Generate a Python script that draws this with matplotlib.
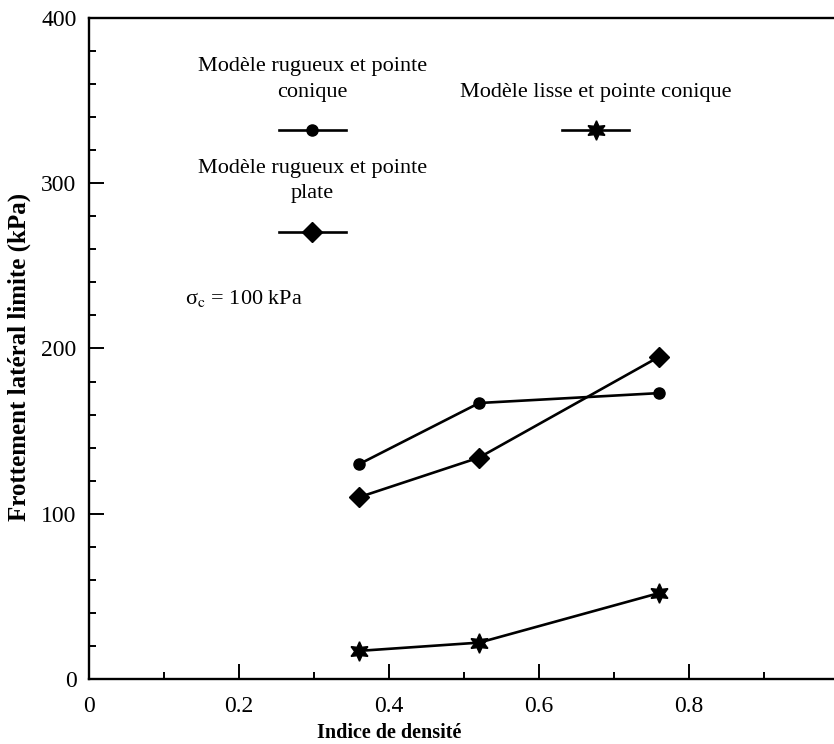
import matplotlib
matplotlib.use("Agg")
import matplotlib.pyplot as plt
from matplotlib.legend import Legend
from matplotlib.lines import Line2D
from matplotlib.ticker import MultipleLocator

plt.rcParams["font.family"] = ["Liberation Serif", "DejaVu Serif"]
plt.rcParams["mathtext.fontset"] = "stix"

# densite index and lateral friction (kPa)
indice = [0.36, 0.52, 0.76]
rugueux_conique = [130, 167, 173]
rugueux_plate = [110, 134, 195]
lisse_conique = [17, 22, 52]

lbl_rc = "Modèle rugueux et pointe\nconique"
lbl_lc = "Modèle lisse et pointe conique"
lbl_rp = "Modèle rugueux et pointe\nplate"
star6 = (6, 1, 0)

fig = plt.figure(figsize=(8.34, 7.44), dpi=100)
ax = fig.add_axes([0.1067, 0.0874, 0.8933, 0.8884])

ax.plot(indice, rugueux_conique, "-", color="k", lw=1.9, marker="o", ms=8)
ax.plot(indice, rugueux_plate, "-", color="k", lw=1.9, marker="D", ms=10)
ax.plot(indice, lisse_conique, "-", color="k", lw=1.9, marker=star6, ms=14)

ax.set_xlim(0, 0.993)
ax.set_ylim(0, 400)
ax.xaxis.set_major_locator(MultipleLocator(0.2))
ax.xaxis.set_minor_locator(MultipleLocator(0.1))
ax.yaxis.set_major_locator(MultipleLocator(100))
ax.yaxis.set_minor_locator(MultipleLocator(20))
ax.set_xticks([0, 0.2, 0.4, 0.6, 0.8])
ax.set_xticklabels(["0", "0.2", "0.4", "0.6", "0.8"])
ax.tick_params(which="both", direction="in", top=False, right=False, width=1.4, labelsize=17)
ax.tick_params(axis="x", which="major", length=11, pad=12)
ax.tick_params(axis="y", which="major", length=11, pad=9)
ax.tick_params(which="minor", length=5)
for side in ["left", "bottom", "top"]:
    ax.spines[side].set_linewidth(1.7)
ax.spines["right"].set_visible(False)

ax.set_xlabel("Indice de densité", fontsize=14.5, fontweight="bold")
ax.set_ylabel("Frottement latéral limite (kPa)", fontsize=18, fontweight="bold")
ax.xaxis.set_label_coords(0.403, -0.067)
ax.yaxis.set_label_coords(-0.078, 0.487)


# three separate legend blocks: text above the sample line
def _legend_block(marker, ms, title, anchor):
    h = Line2D([], [], color="k", lw=1.9, marker=marker, ms=ms)
    leg = Legend(ax, [h], [""], title=title, loc="lower center",
                 bbox_to_anchor=anchor, frameon=False, handlelength=3.0,
                 handletextpad=0, borderpad=0, borderaxespad=0,
                 labelspacing=0.95, fontsize=16, alignment="center",
                 title_fontsize=16)
    leg.get_title().set_multialignment("center")
    leg.get_title().set_linespacing(1.45)
    ax.add_artist(leg)


_legend_block("o", 8, lbl_rc, (0.30, 0.8105))
_legend_block(star6, 14, lbl_lc, (0.68, 0.8105))
_legend_block("D", 10, lbl_rp, (0.30, 0.657))

ax.text(0.129, 0.575, "σ$_{\\mathrm{c}}$ = 100 kPa", transform=ax.transAxes,
        fontsize=16, va="center", ha="left")

fig.savefig("out.png", dpi=100)
